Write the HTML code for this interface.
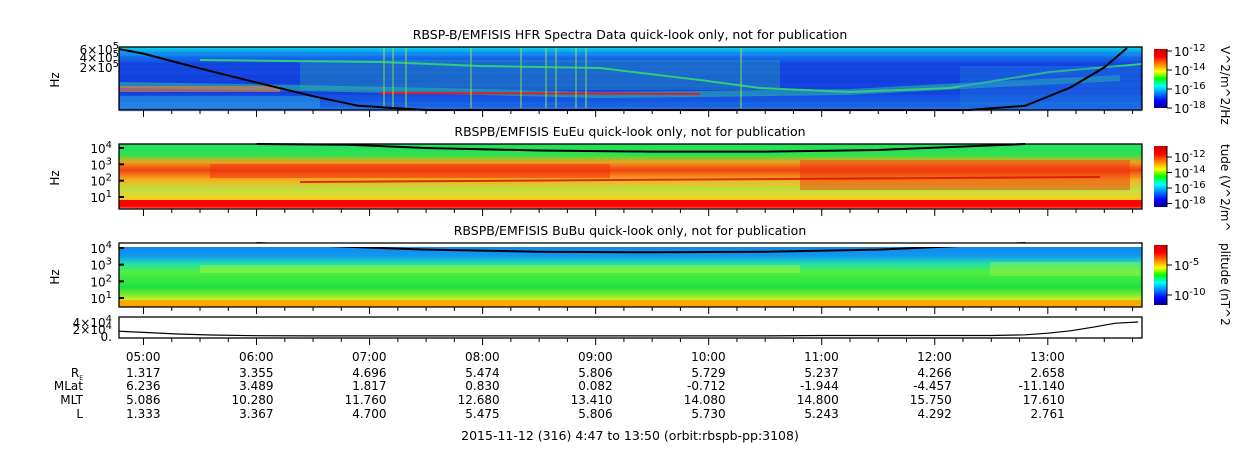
<!DOCTYPE html>
<html><head><meta charset="utf-8"><style>
body{margin:0;background:#fff;width:1250px;height:449px;overflow:hidden}
svg{display:block}
text{font-family:"DejaVu Sans","Liberation Sans",sans-serif;fill:#000}
</style></head><body>
<svg id="c" width="1250" height="449" xmlns="http://www.w3.org/2000/svg">
<defs>
<linearGradient id="jet" x1="0" y1="1" x2="0" y2="0">
<stop offset="0" stop-color="#00008f"/><stop offset="0.12" stop-color="#0000ff"/><stop offset="0.37" stop-color="#00ffff"/><stop offset="0.5" stop-color="#00ff00"/><stop offset="0.62" stop-color="#ffff00"/><stop offset="0.87" stop-color="#ff0000"/><stop offset="1" stop-color="#cc0000"/></linearGradient>
<linearGradient id="g1" x1="0" y1="0" x2="0" y2="1">
<stop offset="0" stop-color="#00d8e8"/><stop offset="0.1" stop-color="#10a0f0"/><stop offset="0.25" stop-color="#1040e0"/><stop offset="0.7" stop-color="#1038d8"/><stop offset="0.85" stop-color="#1058e0"/><stop offset="1" stop-color="#2078e0"/></linearGradient>
<linearGradient id="g2" x1="0" y1="0" x2="0" y2="1">
<stop offset="0" stop-color="#20e060"/><stop offset="0.18" stop-color="#40e040"/><stop offset="0.28" stop-color="#f0a020"/><stop offset="0.4" stop-color="#f04010"/><stop offset="0.55" stop-color="#f8b020"/><stop offset="0.7" stop-color="#c0e040"/><stop offset="0.85" stop-color="#f8d020"/><stop offset="0.9" stop-color="#ff6000"/><stop offset="0.93" stop-color="#ff1000"/><stop offset="0.97" stop-color="#ff1000"/><stop offset="1" stop-color="#ffd0a0"/></linearGradient>
<linearGradient id="g3" x1="0" y1="0" x2="0" y2="1">
<stop offset="0" stop-color="#1080f0"/><stop offset="0.2" stop-color="#1098f0"/><stop offset="0.32" stop-color="#20e0b0"/><stop offset="0.45" stop-color="#50f040"/><stop offset="0.7" stop-color="#20e040"/><stop offset="0.88" stop-color="#c0f020"/><stop offset="1" stop-color="#ffb000"/></linearGradient>
</defs>
<g id="layer"></g>
</svg>
<script>
// ---- data ----
const hourTicks=[5,6,7,8,9,10,11,12,13];
const tickLabels=["05:00","06:00","07:00","08:00","09:00","10:00","11:00","12:00","13:00"];
const rowNames=["R_E","MLat","MLT","L"];
const rE=["1.317","3.355","4.696","5.474","5.806","5.729","5.237","4.266","2.658"];
const mlat=["6.236","3.489","1.817","0.830","0.082","-0.712","-1.944","-4.457","-11.140"];
const mlt=["5.086","10.280","11.760","12.680","13.410","14.080","14.800","15.750","17.610"];
const lShell=["1.333","3.367","4.700","5.475","5.806","5.730","5.243","4.292","2.761"];
// black line (Hz) in HFR panel
const hfrT=[4.78,5.0,5.3,5.6,6.0,6.5,6.9,7.5,12.3,12.8,13.2,13.5,13.7];
const hfrF=[6.5e5,4.5e5,2.2e5,1.1e5,4.5e4,1.5e4,7e3,3e3,3e3,7e3,3e4,1.5e5,7e5];
// fce lines (Hz) in EuEu / BuBu panels
const fceT=[6.0,6.8,7.5,8.5,9.5,10.5,11.5,12.2,12.8];
const fceE=[4e4,1.6e4,1e4,7e3,6e3,6e3,7.5e3,1.2e4,2.5e4];
const fceB=[2.5e4,1.2e4,8e3,6e3,5.5e3,6e3,8e3,1.3e4,2.5e4];
// bottom panel values
const botT=[4.78,5.0,5.3,5.6,6.0,6.5,10.5,11.0,12.5,12.8,13.0,13.2,13.4,13.6,13.8];
const botV=[1.2e4,9e3,5e3,2.5e3,800,200,200,1200,1200,3000,7000,13000,22000,32000,35000];

const svg=document.getElementById('c'),L=document.getElementById('layer');
const NS='http://www.w3.org/2000/svg';
const X0=119,X1=1142,T0=4.7833,T1=13.8333;
const xs=t=>X0+(t-T0)/(T1-T0)*(X1-X0);
function el(tag,a,p){const e=document.createElementNS(NS,tag);for(const k in a)e.setAttribute(k,a[k]);(p||L).appendChild(e);return e;}
function txt(x,y,s,anchor,size,p){const e=el('text',{x:x,y:y,'text-anchor':anchor||'start','font-size':size||12},p);e.textContent=s;return e;}
const logY=(top,bot,vTop,vBot)=>v=>top+(Math.log10(vTop)-Math.log10(v))/(Math.log10(vTop)-Math.log10(vBot))*(bot-top);

const panels=[
 {name:'hfr-spectrogram',y0:47,y1:110,fill:'url(#g1)',title:'RBSP-B/EMFISIS  HFR Spectra Data quick-look only, not for publication',ty:39},
 {name:'eueu-spectrogram',y0:144,y1:209,fill:'url(#g2)',title:'RBSPB/EMFISIS  EuEu quick-look only, not for publication',ty:136},
 {name:'bubu-spectrogram',y0:243,y1:307,fill:'url(#g3)',title:'RBSPB/EMFISIS  BuBu quick-look only, not for publication',ty:235}
];
panels.forEach(p=>{
 const g=el('g',{});
 
 
 el('rect',{x:X0,y:p.y0,width:X1-X0,height:p.y1-p.y0,fill:p.fill},g);
 const t=txt(630,p.ty,p.title,'middle',12.5);
 
 
 p.g=g;
});
const g1=panels[0].g,g2=panels[1].g,g3=panels[2].g;
for(let i=0;i<60;i++){el('line',{x1:X0,x2:X1,y1:50+i*1.0+(i%3),y2:50+i*1.0+(i%3),stroke:i%4?'#1850e8':'#3080f0','stroke-width':0.5,opacity:0.5},g1);}
el('path',{d:'M200 60 L380 62 L480 66 L600 68 L700 80 L760 88 L850 92 L950 88 L1050 72 L1142 64',stroke:'#30d070','stroke-width':2,fill:'none'},g1);
el('path',{d:'M120 85 L300 88 L480 92 L600 95 L700 94 L850 92 L1000 84 L1120 78',stroke:'#30c8a0','stroke-width':6,fill:'none',opacity:0.5},g1);
el('line',{x1:380,x2:700,y1:93,y2:94,stroke:'#e02020','stroke-width':2},g1);
el('rect',{x:120,y:86,width:160,height:6,fill:'#f08030',opacity:0.6},g1);
el('rect',{x:120,y:96,width:200,height:12,fill:'#30a0e0',opacity:0.5},g1);
[383,392,405,470,520,545,555,575,585,740].forEach(x=>el('rect',{x:x,y:48,width:2,height:60,fill:'#a0e040',opacity:0.5},g1));
el('rect',{x:300,y:60,width:480,height:30,fill:'#30c0a0',opacity:0.3},g1);
el('rect',{x:960,y:66,width:180,height:40,fill:'#2080e0',opacity:0.35},g1);
el('rect',{x:X0,y:148,width:X1-X0,height:8,fill:'#20e060',opacity:0.5},g2);
el('rect',{x:210,y:164,width:400,height:14,fill:'#f03010',opacity:0.5},g2);
el('rect',{x:800,y:160,width:330,height:30,fill:'#f03010',opacity:0.45},g2);
el('line',{x1:300,x2:1100,y1:182,y2:177,stroke:'#d01000','stroke-width':2,opacity:0.8},g2);
el('rect',{x:119,y:200,width:1023,height:6,fill:'#ff0000'},g2);
el('rect',{x:200,y:265,width:600,height:8,fill:'#a0f040',opacity:0.5},g3);
el('rect',{x:990,y:262,width:150,height:14,fill:'#a0f040',opacity:0.45},g3);
el('rect',{x:119,y:300,width:1023,height:7,fill:'#ffa000',opacity:0.8},g3);

function curve(g,T,V,f,clipTop,clipBot,w){
 let d='';T.forEach((t,i)=>{let y=Math.max(clipTop,Math.min(clipBot,f(V[i])));d+=(i?'L':'M')+xs(t).toFixed(1)+' '+y.toFixed(1);});
 return el('path',{d:d,stroke:'#000','stroke-width':w||2,fill:'none'},g);}
const yH=logY(50,110,6e5,5e3),yE=logY(148,197,1e4,10),yB=logY(248,298,1e4,10);
let c1=curve(g1,hfrT,hfrF,yH,48,110);
let c2=curve(g2,fceT,fceE,yE,144,209);
let c3=curve(g3,fceT,fceB,yB,243,307);
el('rect',{x:X0,y:243,width:X1-X0,height:4,fill:'#fff'},g3);

const frames=[[47,110],[144,209],[243,307],[317,338]];
frames.forEach(([a,b],k)=>{
 el('rect',{x:X0,y:a,width:X1-X0,height:b-a,fill:'none',stroke:'#000','stroke-width':1.3});
 for(let t=5;t<=13.75;t+=0.25){const x=xs(t),big=Math.abs(t-Math.round(t))<0.01;
  el('line',{x1:x,x2:x,y1:b,y2:b+(big?7:4),stroke:'#000'});}
});
function pow(x,y,base,exp){const t=el('text',{x:x,y:y,'text-anchor':'end','font-size':12});t.innerHTML=base+'<tspan dy="-5" font-size="10">'+exp+'</tspan>';}
pow(119,54,'6×10','5');pow(119,62,'4×10','5');pow(119,72,'2×10','5');
[[1e4,'4'],[1e3,'3'],[1e2,'2'],[10,'1']].forEach(([v,e])=>{pow(112,yE(v)+5,'10',e);pow(112,yB(v)+5,'10',e);
 el('line',{x1:X0,x2:X0+5,y1:yE(v),y2:yE(v),stroke:'#000','stroke-width':2});el('line',{x1:X0,x2:X0+5,y1:yB(v),y2:yB(v),stroke:'#000','stroke-width':2});});
pow(112,327,'4×10','4');pow(112,334,'2×10','4');txt(112,341,'0.','end',12);
[[59,80],[59,178],[59,277]].forEach(([x,y])=>{const t=el('text',{x:x,y:y,'font-size':12,'text-anchor':'middle',transform:`rotate(-90 ${x} ${y})`});t.textContent='Hz';});
const yBot=v=>336-v/4e4*16;
let bd='';botT.forEach((t,i)=>{bd+=(i?'L':'M')+xs(t).toFixed(1)+' '+yBot(botV[i]).toFixed(1);});
const bp=el('path',{d:bd,stroke:'#000','stroke-width':1.2,fill:'none'});



const cbs=[[47,110,['-12','-14','-16','-18'],'V^2/m^2/Hz'],[144,209,['-12','-14','-16','-18'],'tude (V^2/m^'],[243,307,['-5','-10'],'plitude (nT^2']];
cbs.forEach(([a,b,labs,title],k)=>{
 const g=el('g',{});
 
 
 el('rect',{x:1154,y:a+2,width:13,height:b-a-4,fill:'url(#jet)'},g);
 el('line',{x1:1167,x2:1167,y1:a+2,y2:b-2,stroke:'#000'},g);
 labs.forEach((l,i)=>{let y=k==0?a+4+i*19:(k==1?a+13+i*15.5:a+22+i*30);
  el('line',{x1:1167,x2:1172,y1:y,y2:y,stroke:'#000'},g);
  const t=el('text',{x:1174,y:y+5,'font-size':12},g);t.innerHTML='10<tspan dy="-5" font-size="10">'+l+'</tspan>';});
 const t=el('text',{x:1221,y:a+(k==0?-1:0),'font-size':12,transform:`rotate(90 1221 ${a+(k==0?-1:0)})`},g);t.textContent=title;
});

hourTicks.forEach((h,i)=>{const x=xs(h)+17;txt(x,361,tickLabels[i],'end',12);
 txt(x,377,rE[i],'end',12);txt(x,390,mlat[i],'end',12);txt(x,404,mlt[i],'end',12);txt(x,418,lShell[i],'end',12);});
const re=el('text',{x:83,y:377,'text-anchor':'end','font-size':12});re.innerHTML='R<tspan dy="3" font-size="6">E</tspan>';
txt(83,390,'MLat','end',12);txt(83,404,'MLT','end',12);txt(83,418,'L','end',12);
const ft=txt(630,440,'2015-11-12 (316) 4:47 to 13:50 (orbit:rbspb-pp:3108)','middle',12.5);


</script>
</body></html>
